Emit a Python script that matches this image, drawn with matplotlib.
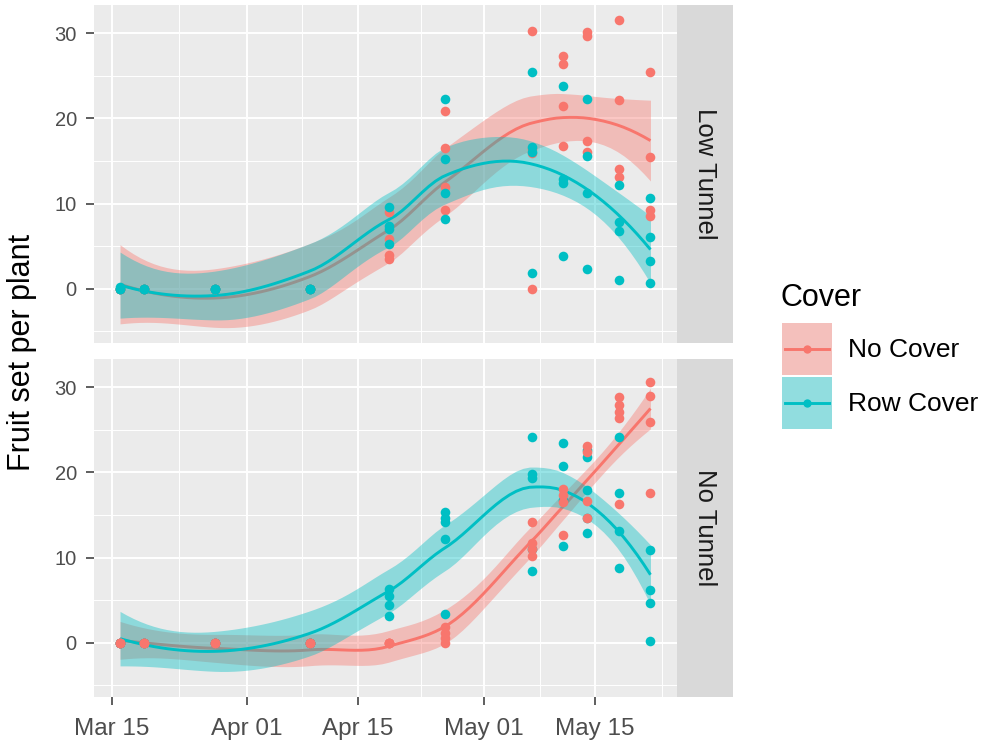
import numpy as np
import pandas as pd
import matplotlib
matplotlib.use("Agg")
import matplotlib.pyplot as plt
from matplotlib.patches import Rectangle
from matplotlib.lines import Line2D

plt.rcParams["font.family"] = ["Liberation Sans", "DejaVu Sans"]

# ---------------------------------------------------------------- data
dates = ["2021-03-16", "2021-03-19", "2021-03-28", "2021-04-09", "2021-04-19",
         "2021-04-26", "2021-05-07", "2021-05-11", "2021-05-14", "2021-05-18",
         "2021-05-22"]

# fruit set per plant, one list of replicate values per sampling date
low_no_cover = [
    [0, 0, 0, 0], [0, 0, 0, 0], [0, 0, 0, 0], [0, 0, 0, 0],
    [9.0, 5.8, 4.0, 3.5],
    [20.9, 16.5, 12.0, 9.3],
    [30.3, 16.4, 15.9, 0.0],
    [27.3, 26.4, 21.5, 16.8],
    [30.1, 29.7, 17.3, 16.1],
    [31.5, 22.2, 14.0, 13.1],
    [25.4, 15.5, 9.3, 8.6],
]
low_row_cover = [
    [0.2, 0, 0, 0], [0, 0, 0, 0], [0, 0, 0, 0], [0, 0, 0, 0],
    [9.6, 7.4, 7.0, 5.2],
    [22.3, 15.2, 11.3, 8.2],
    [25.4, 16.6, 16.0, 1.8],
    [23.8, 12.9, 12.4, 3.8],
    [22.3, 15.6, 11.3, 2.3],
    [12.2, 7.8, 6.8, 1.0],
    [10.6, 6.1, 3.3, 0.7],
]
none_no_cover = [
    [0, 0, 0, 0], [0, 0, 0, 0], [0, 0, 0, 0], [0, 0, 0, 0],
    [0, 0, 0, 0],
    [1.8, 1.2, 0.6, 0.0],
    [14.2, 11.7, 11.0, 10.2],
    [18.0, 17.4, 16.5, 12.7],
    [23.1, 22.4, 16.6, 14.6],
    [28.8, 27.9, 27.1, 26.4, 16.3],
    [30.6, 29.0, 25.9, 17.6],
]
none_row_cover = [
    [0, 0, 0, 0], [0, 0, 0, 0], [0, 0, 0, 0], [0, 0, 0, 0],
    [6.3, 5.5, 4.4, 3.1],
    [15.3, 14.7, 14.2, 12.2, 3.4],
    [24.1, 19.8, 19.3, 11.0, 8.4],
    [23.4, 20.7, 16.8, 11.4],
    [22.6, 21.8, 17.9, 14.6, 12.9],
    [24.1, 17.6, 13.1, 8.8],
    [10.9, 6.2, 4.7, 0.2],
]

tunnels = ["Low Tunnel", "No Tunnel"]
covers = ["No Cover", "Row Cover"]
cover_colors = {"No Cover": "#F8766D", "Row Cover": "#00BFC4"}
x_breaks = ["2021-03-15", "2021-04-01", "2021-04-15", "2021-05-01", "2021-05-15"]
x_break_labels = ["Mar 15", "Apr 01", "Apr 15", "May 01", "May 15"]
y_breaks = [0, 10, 20, 30]

series = {
    ("Low Tunnel", "No Cover"): low_no_cover,
    ("Low Tunnel", "Row Cover"): low_row_cover,
    ("No Tunnel", "No Cover"): none_no_cover,
    ("No Tunnel", "Row Cover"): none_row_cover,
}

origin = pd.Timestamp("2021-03-15")


def to_days(d):
    return (pd.to_datetime(d) - origin) / pd.Timedelta(days=1)


date_days = np.asarray(to_days(dates), dtype=float)


def long_form(groups):
    xs, ys = [], []
    for d, vals in zip(date_days, groups):
        xs.extend([d] * len(vals))
        ys.extend(vals)
    return np.array(xs, float), np.array(ys, float)


# ------------------------------------------------------- loess smoother
# local quadratic regression (span 0.75, tricube weights), evaluated on
# kd-tree vertices and blended with cubic Hermite interpolation
def local_rows(x, x0, q):
    n = len(x)
    d = np.abs(x - x0)
    h = np.sort(d)[q - 1]
    u = d / h
    w = np.where(u < 1, (1 - u ** 3) ** 3, 0.0)
    X = np.column_stack([np.ones(n), x - x0, (x - x0) ** 2])
    XtW = X.T * w
    B = np.linalg.pinv(XtW @ X) @ XtW
    return B[0], B[1]


def kd_vertices(xs, fc):
    n = len(xs)
    rng = xs[-1] - xs[0]
    mu = 0.005 * rng
    lo_b, hi_b = xs[0] - mu, xs[-1] + mu
    verts = {lo_b, hi_b}

    def split(l, u, lo_v, hi_v):
        if u - l + 1 <= fc:
            return
        m = (l + u) // 2
        off = 0
        while l <= m + off < u:
            if xs[m + off] == xs[m + off + 1]:
                off = -off
                if off >= 0:
                    off += 1
            else:
                m = m + off
                break
        v = xs[m]
        if v == lo_v or v == hi_v:
            return
        verts.add(v)
        split(l, m, lo_v, v)
        split(m + 1, u, v, hi_v)

    split(0, n - 1, lo_b, hi_b)
    return np.array(sorted(verts))


def loess_operator(x, xe, span=0.75, cell=0.2):
    n = len(x)
    q = int(np.floor(n * span))
    fc = int(np.floor(n * span * cell))
    verts = kd_vertices(np.sort(x), fc)
    val = []
    slp = []
    for v in verts:
        r0, r1 = local_rows(x, v, q)
        val.append(r0)
        slp.append(r1)
    val, slp = np.array(val), np.array(slp)
    L = np.zeros((len(xe), n))
    for i, xx in enumerate(xe):
        j = np.clip(np.searchsorted(verts, xx) - 1, 0, len(verts) - 2)
        a, b = verts[j], verts[j + 1]
        hh = b - a
        t = (xx - a) / hh
        h00 = 2 * t ** 3 - 3 * t ** 2 + 1
        h10 = t ** 3 - 2 * t ** 2 + t
        h01 = -2 * t ** 3 + 3 * t ** 2
        h11 = t ** 3 - t ** 2
        L[i] = h00 * val[j] + h10 * hh * slp[j] + h01 * val[j + 1] + h11 * hh * slp[j + 1]
    return L


def t_quantile_975(df):
    # Cornish-Fisher expansion of Student's t quantile
    z = 1.959963984540054
    g1 = (z ** 3 + z) / 4
    g2 = (5 * z ** 5 + 16 * z ** 3 + 3 * z) / 96
    g3 = (3 * z ** 7 + 19 * z ** 5 + 17 * z ** 3 - 15 * z) / 384
    return z + g1 / df + g2 / df ** 2 + g3 / df ** 3


def smooth(x, y, n_out=80):
    xe = np.linspace(x.min(), x.max(), n_out)
    Ld = loess_operator(x, x)
    res = y - Ld @ y
    M = np.eye(len(x)) - Ld
    MM = M.T @ M
    d1 = np.trace(MM)
    d2 = np.trace(MM @ MM)
    s = np.sqrt(np.sum(res ** 2) / d1)
    Le = loess_operator(x, xe)
    fit = Le @ y
    se = s * np.sqrt(np.sum(Le ** 2, axis=1))
    t = t_quantile_975(d1 ** 2 / d2)
    return xe, fit, fit - t * se, fit + t * se


fits = {}
all_y = []
for key, groups in series.items():
    x, y = long_form(groups)
    fits[key] = (x, y) + smooth(x, y)
    all_y.extend([y.min(), y.max(), fits[key][4].min(), fits[key][5].max()])

ylo, yhi = min(all_y), max(all_y)
yr = yhi - ylo
ylim = (ylo - 0.05 * yr, yhi + 0.05 * yr)
xr = date_days.max() - date_days.min()
xlim = (date_days.min() - 0.05 * xr, date_days.max() + 0.05 * xr)

major_x = np.asarray(to_days(x_breaks), dtype=float)
step0 = major_x[1] - major_x[0]
ext = np.concatenate([[major_x[0] - step0], major_x, [major_x[-1] + step0]])
minor_x = (ext[:-1] + ext[1:]) / 2
minor_y = [-5, 5, 15, 25]

# --------------------------------------------------------------- figure
W, H = 986, 746
fig = plt.figure(figsize=(W / 100, H / 100), dpi=100)


def px_axes(x0, y0, x1, y1):
    return fig.add_axes([x0 / W, 1 - y1 / H, (x1 - x0) / W, (y1 - y0) / H])


panel_box = {"Low Tunnel": (5, 343), "No Tunnel": (359, 697)}
px_left, px_right, strip_right = 93.5, 677, 733

PANEL_BG = "#EBEBEB"
for tunnel in tunnels:
    top, bot = panel_box[tunnel]
    ax = px_axes(px_left, top, px_right, bot)
    ax.set_facecolor(PANEL_BG)
    for sp in ax.spines.values():
        sp.set_visible(False)
    ax.set_xlim(*xlim)
    ax.set_ylim(*ylim)
    for v in minor_x:
        ax.axvline(v, color="white", lw=0.7, zorder=0.5)
    for v in minor_y:
        ax.axhline(v, color="white", lw=0.7, zorder=0.5)
    for v in major_x:
        ax.axvline(v, color="white", lw=1.4, zorder=0.6)
    for v in y_breaks:
        ax.axhline(v, color="white", lw=1.4, zorder=0.6)

    z = 2
    for cover in covers:
        x, y, xe, fit, lo, hi = fits[(tunnel, cover)]
        c = cover_colors[cover]
        ax.fill_between(xe, lo, hi, color=c, alpha=0.4, lw=0, zorder=z)
        ax.plot(xe, fit, color=c, lw=2.1, zorder=z + 0.1, solid_capstyle="butt")
        z += 0.2

    order = covers if tunnel == "Low Tunnel" else covers[::-1]
    for cover in order:
        x, y = fits[(tunnel, cover)][:2]
        ax.scatter(x, y, s=48, color=cover_colors[cover], lw=0, zorder=3)

    ax.set_yticks(y_breaks)
    ax.set_yticklabels([str(v) for v in y_breaks])
    ax.tick_params(axis="y", length=6, width=1.1, color="#333333",
                   labelcolor="#4D4D4D", labelsize=14.5, pad=6)
    ax.set_xticks(major_x)
    if tunnel == "No Tunnel":
        ax.set_xticklabels(x_break_labels)
        ax.tick_params(axis="x", length=6, width=1.1, color="#333333",
                       labelcolor="#4D4D4D", labelsize=17.5, pad=9)
    else:
        ax.tick_params(axis="x", length=0, labelbottom=False)

    # facet strip
    sax = px_axes(px_right, top, strip_right, bot)
    sax.set_facecolor("#D9D9D9")
    sax.set_xticks([])
    sax.set_yticks([])
    for sp in sax.spines.values():
        sp.set_visible(False)
    sax.text(0.5, 0.5, tunnel, rotation=-90, ha="center", va="center",
             fontsize=18.5, color="#1A1A1A", transform=sax.transAxes)

fig.text(22 / W, 1 - 352 / H, "Fruit set per plant", rotation=90,
         ha="center", va="center", fontsize=22, color="black")

# ---------------------------------------------------------------- legend
lax = px_axes(770, 270, 986, 440)
lax.set_xlim(770, 986)
lax.set_ylim(440, 270)
lax.axis("off")
lax.text(780, 298, "Cover", ha="left", va="center", fontsize=22, color="black")
key_tops = [323, 377]
for cover, kt in zip(covers, key_tops):
    c = cover_colors[cover]
    lax.add_patch(Rectangle((782, kt), 50, 52, facecolor="#F2F2F2", edgecolor="none"))
    lax.add_patch(Rectangle((782, kt), 50, 52, facecolor=c, alpha=0.4, edgecolor="none"))
    cy = kt + 26
    lax.add_line(Line2D([785, 829], [cy, cy], color=c, lw=2.1))
    lax.plot([807], [cy], "o", color=c, ms=6, mew=0)
    lax.text(848, cy + 1, cover, ha="left", va="center", fontsize=19, color="black")

fig.savefig("out.png", dpi=100, facecolor="white")
